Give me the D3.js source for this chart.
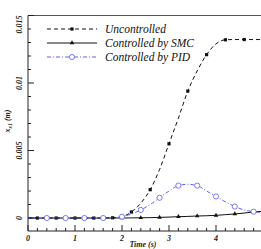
<!DOCTYPE html>
<html>
<head>
<meta charset="utf-8">
<script src="https://cdn.jsdelivr.net/npm/d3@7"></script>
<style>
  body { margin: 0; background: #fff; }
  svg { display: block; }
</style>
</head>
<body>
<div id="chart"></div>
<script>
// time samples (s)
const times = [0, 0.2, 0.4, 0.6, 0.8, 1.0, 1.2, 1.4, 1.6, 1.8, 2.0, 2.2, 2.4, 2.6, 2.8,
               3.0, 3.2, 3.4, 3.6, 3.8, 4.0, 4.2, 4.4, 4.6, 4.8, 5.0];
const uncontrolled = [0, 0, 0, 0, 0, 0, 0, 0, 0, 0.00002, 0.0001, 0.00045, 0.0011, 0.0021, 0.0036,
                      0.0055, 0.0074, 0.0094, 0.0109, 0.0121, 0.0129, 0.0132, 0.01322, 0.01322, 0.01322, 0.01322];
const smc = [0, 0, 0, 0, 0, 0, 0, 0, 0, 0, 0, 0.00001, 0.00002, 0.00003, 0.00005,
             0.00007, 0.0001, 0.00012, 0.00015, 0.00017, 0.0002, 0.00025, 0.0003, 0.00037, 0.00045, 0.0005];
const pid = [0, 0, 0, 0, 0, 0, 0, 0, 0, 0.00002, 0.0001, 0.0003, 0.0006, 0.001, 0.0015,
             0.002, 0.0024, 0.0025, 0.0024, 0.002, 0.0016, 0.0012, 0.00085, 0.0006, 0.00047, 0.0004];
const xTicks = [0, 1, 2, 3, 4];
const yTicks = [0, 0.005, 0.01, 0.015];
const yTickLabels = ["0", "0.005", "0.01", "0.015"];
const seriesNames = ["Uncontrolled", "Controlled by SMC", "Controlled by PID"];

const SERIF = "Liberation Serif";
const W = 261, H = 249;
const x = d3.scaleLinear().domain([0, 5]).range([28, 263]);
const y = d3.scaleLinear().domain([-0.00096, 0.015]).range([231, 15.5]);

const svg = d3.select("#chart").append("svg").attr("width", W).attr("height", H);

function tickText(sel) {
    sel.attr("font-family", SERIF).attr("font-size", 8).attr("font-style", "italic")
       .attr("font-weight", "bold").attr("fill", "#222");
}

// frame
svg.append("line").attr("x1", x(0)).attr("x2", W + 2).attr("y1", y(0.015)).attr("y2", y(0.015))
    .attr("stroke", "#555").attr("stroke-width", 1);

// x axis, inward ticks
const gx = svg.append("g").attr("transform", `translate(0,${y.range()[0]})`);
gx.append("line").attr("x1", x(0)).attr("x2", W + 2).attr("stroke", "#222").attr("stroke-width", 1);
gx.selectAll("line.tk").data(d3.range(0, 26)).enter().append("line")
    .attr("class", "tk")
    .attr("x1", d => x(d * 0.2)).attr("x2", d => x(d * 0.2))
    .attr("y1", 0).attr("y2", d => d % 5 === 0 ? -6 : -3)
    .attr("stroke", "#222").attr("stroke-width", 1);
gx.selectAll("text").data(xTicks).enter().append("text")
    .attr("x", d => x(d)).attr("y", 10)
    .attr("text-anchor", "middle").text(d => d).call(tickText);

// y axis, inward ticks
const gy = svg.append("g").attr("transform", `translate(${x(0)},0)`);
gy.append("line").attr("y1", y.range()[0]).attr("y2", y(0.015)).attr("stroke", "#222").attr("stroke-width", 1);
gy.selectAll("line.tk").data(d3.range(0, 16)).enter().append("line")
    .attr("class", "tk")
    .attr("y1", d => y(d * 0.001)).attr("y2", d => y(d * 0.001))
    .attr("x1", 0).attr("x2", d => d % 5 === 0 ? 6 : 3)
    .attr("stroke", "#222").attr("stroke-width", 1);
gy.selectAll("text").data(yTicks).enter().append("text")
    .attr("transform", (d, i) => `translate(-6,${i === 3 ? y(d) + 9 : y(d)}) rotate(-90)`)
    .attr("text-anchor", "middle").text((d, i) => yTickLabels[i]).call(tickText);

// axis titles
svg.append("text").attr("x", 143).attr("y", 247)
    .attr("text-anchor", "middle").text("Time (s)").call(tickText);
const yl = svg.append("text")
    .attr("transform", "translate(10,121) rotate(-90)").attr("text-anchor", "middle").call(tickText);
yl.append("tspan").text("x");
yl.append("tspan").attr("font-size", 6).attr("dy", 2).text("s1");
yl.append("tspan").attr("dy", -2).text(" (m)");

const line = d3.line().x(d => x(d[0])).y(d => y(d[1])).curve(d3.curveMonotoneX);
const pts = vals => times.map((t, i) => [t, vals[i]]);

svg.append("clipPath").attr("id", "clip").append("rect")
    .attr("x", x(0)).attr("y", 0).attr("width", W).attr("height", y.range()[0]);
const plot = svg.append("g").attr("clip-path", "url(#clip)");

const triangle = d3.symbol().type(d3.symbolTriangle).size(9);

// SMC
plot.append("path").attr("d", line(pts(smc))).attr("fill", "none").attr("stroke", "#111").attr("stroke-width", 1);
plot.selectAll("path.smc").data(pts(smc).filter((d, i) => i % 2 === 0 && i > 0)).enter().append("path")
    .attr("class", "smc").attr("d", triangle).attr("fill", "#111")
    .attr("transform", d => `translate(${x(d[0])},${y(d[1])})`);

// Uncontrolled
plot.append("path").attr("d", line(pts(uncontrolled))).attr("fill", "none").attr("stroke", "#111")
    .attr("stroke-width", 1).attr("stroke-dasharray", "4,3");
plot.selectAll("rect.unc").data(pts(uncontrolled).filter((d, i) => i % 2 === 1)).enter().append("rect")
    .attr("class", "unc").attr("width", 3.2).attr("height", 3.2).attr("fill", "#111")
    .attr("x", d => x(d[0]) - 1.6).attr("y", d => y(d[1]) - 1.6);

// PID
plot.append("path").attr("d", line(pts(pid))).attr("fill", "none").attr("stroke", "#3a3af0")
    .attr("stroke-width", 0.8).attr("stroke-dasharray", "4,2,1,2");
plot.selectAll("circle.pid").data(pts(pid).filter((d, i) => i % 2 === 0 && i > 0)).enter().append("circle")
    .attr("class", "pid").attr("r", 2.6).attr("fill", "#fff").attr("stroke", "#5a5af5").attr("stroke-width", 0.8)
    .attr("cx", d => x(d[0])).attr("cy", d => y(d[1]));

// legend
const legendY = [29, 43, 57];
const lg = svg.append("g");
seriesNames.forEach((name, i) => {
    const ly = legendY[i];
    const l = lg.append("line").attr("x1", 47).attr("x2", 97).attr("y1", ly).attr("y2", ly)
        .attr("stroke", i === 2 ? "#3a3af0" : "#111").attr("stroke-width", i === 2 ? 0.8 : 1);
    if (i === 0) l.attr("stroke-dasharray", "4,3");
    if (i === 2) l.attr("stroke-dasharray", "4,2,1,2");
    if (i === 0) lg.append("rect").attr("x", 70.4).attr("y", ly - 1.6).attr("width", 3.2).attr("height", 3.2).attr("fill", "#111");
    if (i === 1) lg.append("path").attr("d", triangle).attr("fill", "#111").attr("transform", `translate(72,${ly})`);
    if (i === 2) lg.append("circle").attr("cx", 72).attr("cy", ly).attr("r", 2.6).attr("fill", "#fff").attr("stroke", "#5a5af5").attr("stroke-width", 0.8);
    lg.append("text").attr("x", 105).attr("y", ly + 3.5).text(name)
        .attr("font-family", SERIF).attr("font-size", 11.5).attr("font-style", "italic").attr("fill", "#111");
});
</script>
</body>
</html>
